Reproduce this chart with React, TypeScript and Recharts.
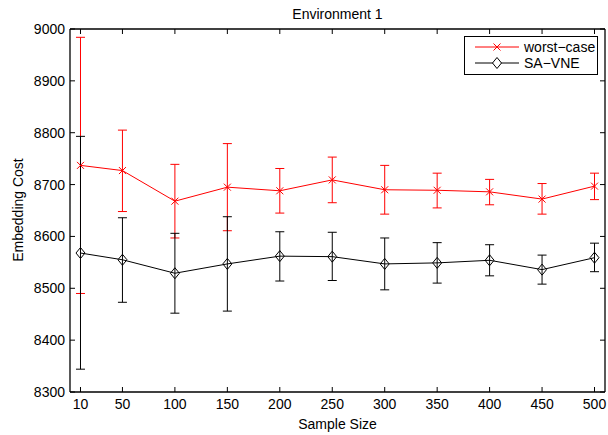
import React from 'react';
import { LineChart, Line, XAxis, YAxis, ErrorBar } from 'recharts';

const sampleSizes = [10, 50, 100, 150, 200, 250, 300, 350, 400, 450, 500];
const yTicks = [8300, 8400, 8500, 8600, 8700, 8800, 8900, 9000];

const worstMean = [8737, 8727, 8668, 8695, 8688, 8709, 8690, 8689, 8686, 8672, 8697];
const worstTop = [8984, 8805, 8739, 8779, 8731, 8753, 8737, 8722, 8710, 8702, 8722];
const worstBottom = [8490, 8648, 8597, 8611, 8645, 8665, 8643, 8655, 8661, 8643, 8671];

const saMean = [8568, 8555, 8529, 8547, 8562, 8561, 8547, 8549, 8554, 8536, 8559];
const saTop = [8793, 8636, 8606, 8638, 8609, 8608, 8597, 8588, 8584, 8564, 8587];
const saBottom = [8344, 8473, 8452, 8456, 8514, 8515, 8497, 8510, 8524, 8508, 8532];

const data = sampleSizes.map((x, i) => ({
  x,
  worst: worstMean[i],
  worstErr: [worstMean[i] - worstBottom[i], worstTop[i] - worstMean[i]],
  sa: saMean[i],
  saErr: [saMean[i] - saBottom[i], saTop[i] - saMean[i]],
}));

const FONT = '"Liberation Sans", Arial, Helvetica, sans-serif';
const TICK_LEN = 5;

const BottomTick = (props: any) => {
  const { x, y, payload } = props;
  return (
    <g>
      <line x1={x} y1={y} x2={x} y2={y - TICK_LEN} stroke="#000" strokeWidth={1} />
      <text x={x} y={y + 17} textAnchor="middle" fontSize={14} fontFamily={FONT} fill="#000">
        {payload.value}
      </text>
    </g>
  );
};

const TopTick = (props: any) => {
  const { x, y } = props;
  return <line x1={x} y1={y} x2={x} y2={y + TICK_LEN} stroke="#000" strokeWidth={1} />;
};

const LeftTick = (props: any) => {
  const { x, y, payload } = props;
  return (
    <g>
      <line x1={x} y1={y} x2={x + TICK_LEN} y2={y} stroke="#000" strokeWidth={1} />
      <text x={x - 5} y={y + 5} textAnchor="end" fontSize={14} fontFamily={FONT} fill="#000">
        {payload.value}
      </text>
    </g>
  );
};

const RightTick = (props: any) => {
  const { x, y } = props;
  return <line x1={x} y1={y} x2={x - TICK_LEN} y2={y} stroke="#000" strokeWidth={1} />;
};

const CrossDot = (props: any) => {
  const { cx, cy } = props;
  if (cx == null || cy == null) return null;
  const s = 3.5;
  return (
    <g stroke="#ff0000" strokeWidth={1}>
      <line x1={cx - s} y1={cy - s} x2={cx + s} y2={cy + s} />
      <line x1={cx - s} y1={cy + s} x2={cx + s} y2={cy - s} />
    </g>
  );
};

const DiamondDot = (props: any) => {
  const { cx, cy } = props;
  if (cx == null || cy == null) return null;
  const w = 4.5;
  const h = 5.5;
  return (
    <path
      d={`M${cx},${cy - h} L${cx + w},${cy} L${cx},${cy + h} L${cx - w},${cy} Z`}
      fill="none"
      stroke="#000"
      strokeWidth={1}
    />
  );
};

const legendItems = [
  { label: 'worst\u2212case', color: '#ff0000', kind: 'x' },
  { label: 'SA\u2212VNE', color: '#000', kind: 'd' },
];

const LegendBox = () => (
  <div
    style={{
      position: 'absolute',
      left: 464,
      top: 36,
      border: '1.3px solid #000',
      background: '#fff',
      width: 134,
      height: 39,
      boxSizing: 'border-box',
      fontFamily: FONT,
      fontSize: 14,
      color: '#000',
      padding: '2px 0 0 8px',
    }}
  >
    {legendItems.map((e) => (
      <div key={e.label} style={{ display: 'flex', alignItems: 'center', height: 16 }}>
        <svg width={50} height={14}>
          <line x1={2} y1={7} x2={46} y2={7} stroke={e.color} strokeWidth={1} />
          {e.kind === 'x' ? (
            <g stroke={e.color} strokeWidth={1}>
              <line x1={20.5} y1={3.5} x2={27.5} y2={10.5} />
              <line x1={20.5} y1={10.5} x2={27.5} y2={3.5} />
            </g>
          ) : (
            <path d="M24,1.5 L28.5,7 L24,12.5 L19.5,7 Z" fill="#fff" stroke={e.color} strokeWidth={1} />
          )}
        </svg>
        <span style={{ marginLeft: 1 }}>{e.label}</span>
      </div>
    ))}
  </div>
);

export default function App() {
  return (
    <div style={{ position: 'absolute', left: 0, top: 0, width: 608, height: 435, background: '#fff' }}>
      <LineChart
        width={608}
        height={435}
        data={data}
        margin={{ top: 28, right: 2, bottom: 13, left: 0 }}
      >
        <XAxis
          dataKey="x"
          type="number"
          domain={[0, 510]}
          ticks={sampleSizes}
          allowDataOverflow
          height={30}
          tickSize={0}
          tickMargin={0}
          tick={<BottomTick />}
          axisLine={{ stroke: '#000', strokeWidth: 1.3 }}
          interval={0}
        />
        <XAxis
          xAxisId="top"
          orientation="top"
          dataKey="x"
          type="number"
          domain={[0, 510]}
          ticks={sampleSizes}
          allowDataOverflow
          height={1}
          tickSize={0}
          tickMargin={0}
          tick={<TopTick />}
          axisLine={{ stroke: '#000', strokeWidth: 1.3 }}
          interval={0}
        />
        <YAxis
          type="number"
          domain={[8300, 9000]}
          ticks={yTicks}
          allowDataOverflow
          width={70}
          tickSize={0}
          tickMargin={0}
          tick={<LeftTick />}
          axisLine={{ stroke: '#000', strokeWidth: 1.3 }}
          interval={0}
        />
        <YAxis
          yAxisId="right"
          orientation="right"
          type="number"
          domain={[8300, 9000]}
          ticks={yTicks}
          allowDataOverflow
          width={1}
          tickSize={0}
          tickMargin={0}
          tick={<RightTick />}
          axisLine={{ stroke: '#000', strokeWidth: 1.3 }}
          interval={0}
        />
        <Line
          dataKey="worst"
          name="worst-case"
          stroke="#ff0000"
          strokeWidth={1}
          dot={<CrossDot />}
          activeDot={false}
          isAnimationActive={false}
        >
          <ErrorBar dataKey="worstErr" width={4.5} stroke="#ff0000" strokeWidth={1} direction="y" isAnimationActive={false} />
        </Line>
        <Line
          dataKey="sa"
          name="SA-VNE"
          stroke="#000"
          strokeWidth={1}
          dot={<DiamondDot />}
          activeDot={false}
          isAnimationActive={false}
        >
          <ErrorBar dataKey="saErr" width={4.5} stroke="#000" strokeWidth={1} direction="y" isAnimationActive={false} />
        </Line>
        <text x={337.5} y={19} textAnchor="middle" fontSize={14} fontFamily={FONT} fill="#000">
          Environment 1
        </text>
        <text x={337.5} y={429} textAnchor="middle" fontSize={14} fontFamily={FONT} fill="#000">
          Sample Size
        </text>
        <text
          x={23}
          y={210}
          textAnchor="middle"
          fontSize={14}
          fontFamily={FONT}
          fill="#000"
          transform="rotate(-90 23 210)"
        >
          Embedding Cost
        </text>
      </LineChart>
      <LegendBox />
    </div>
  );
}
